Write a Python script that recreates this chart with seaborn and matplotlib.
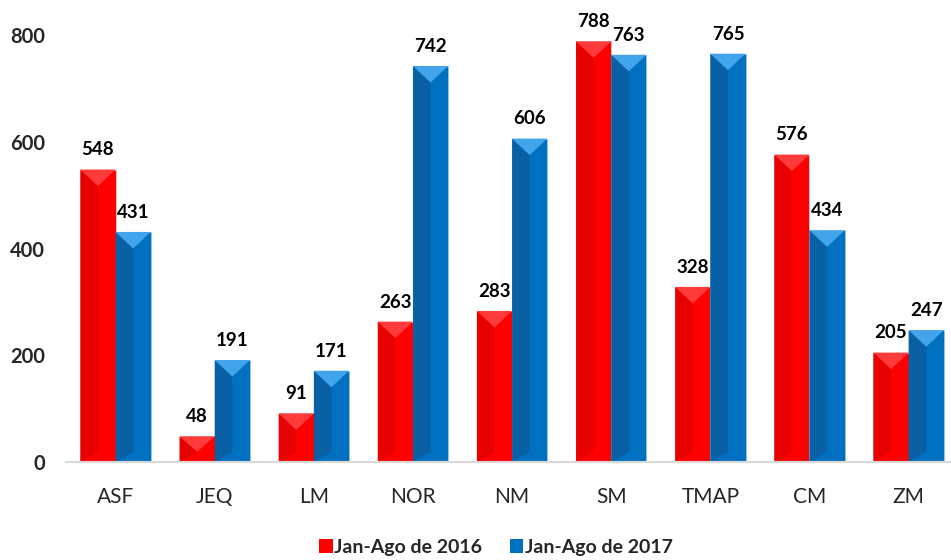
import numpy as np
import pandas as pd
import matplotlib
matplotlib.use("Agg")
import matplotlib.pyplot as plt
from matplotlib.patches import Polygon, Patch
import seaborn as sns

categories = ["ASF", "JEQ", "LM", "NOR", "NM", "SM", "TMAP", "CM", "ZM"]
series_names = ["Jan-Ago de 2016", "Jan-Ago de 2017"]
values_2016 = [548, 48, 91, 263, 283, 788, 328, 576, 205]
values_2017 = [431, 191, 171, 742, 606, 763, 765, 434, 247]
y_ticks = [0, 200, 400, 600, 800]

df = pd.DataFrame({
    "region": categories * 2,
    "value": values_2016 + values_2017,
    "period": [series_names[0]] * len(categories) + [series_names[1]] * len(categories),
})

sns.set_theme(style="white")
plt.rcParams["font.family"] = ["Lato", "DejaVu Sans"]

W, H = 951, 560
fig = plt.figure(figsize=(W / 100, H / 100), dpi=100)
ax = fig.add_axes([66 / W, 98 / H, (W - 66) / W, 462 / H])

main_cols = ["#FF0000", "#0070C0"]
dark_cols = ["#E60000", "#0A60A5"]
top_cols = ["#FF3A3A", "#42A5EC"]

sns.barplot(data=df, x="region", y="value", hue="period", hue_order=series_names,
            order=categories, palette=main_cols, saturation=1, width=0.71,
            ax=ax, legend=False)

ax.set_ylim(0, 865.6)
ax.set_xlim(-0.5, (W - 115) / 99.2)
fig.canvas.draw()

px_per_y = ax.transData.transform((0, 1))[1] - ax.transData.transform((0, 0))[1]
px_per_x = ax.transData.transform((1, 0))[0] - ax.transData.transform((0, 0))[0]

bars = [p for p in ax.patches if p.get_height() > 0]
for p in bars:
    x0, w, h = p.get_x(), p.get_width(), p.get_height()
    fc = p.get_facecolor()
    si = 0 if fc[0] > 0.9 else 1
    depth = (w * px_per_x * 0.47) / px_per_y
    depth = min(depth, h * 0.6)
    ax.add_patch(Polygon([(x0, 0), (x0 + w * 0.5, depth * 0.6), (x0 + w * 0.5, h - depth), (x0, h)],
                         closed=True, facecolor=dark_cols[si], edgecolor="none", zorder=3))
    ax.add_patch(Polygon([(x0, h), (x0 + w, h), (x0 + w / 2, h - depth)],
                         closed=True, facecolor=top_cols[si], edgecolor="none", zorder=3))
    p.set_edgecolor("#D0D0D0" if si == 0 else "#9CC3E5")
    p.set_linewidth(0.6)

for p in bars:
    ax.annotate(f"{int(round(p.get_height()))}", (p.get_x() + p.get_width() / 2, p.get_height()),
                xytext=(0, 8), textcoords="offset points", ha="center", va="bottom",
                fontsize=13.5, fontweight="bold", color="black", zorder=5)

for s in ["top", "right", "left"]:
    ax.spines[s].set_visible(False)
ax.spines["bottom"].set_color("#D9D9D9")
ax.spines["bottom"].set_linewidth(1.5)
ax.spines["bottom"].set_zorder(4)

ax.set_yticks(y_ticks)
ax.set_yticklabels([str(v) for v in y_ticks], fontsize=14.5, fontweight="bold")
ax.tick_params(axis="y", length=0, pad=15)
ax.tick_params(axis="x", length=0, pad=18, labelsize=15)
ax.set_xlabel("")
ax.set_ylabel("")
ax.grid(False)

handles = [Patch(facecolor=main_cols[0], edgecolor="none"), Patch(facecolor=main_cols[1], edgecolor="none")]
fig.legend(handles, series_names, loc="center", bbox_to_anchor=(496 / W, 1 - 547 / H),
           ncol=2, frameon=False, handlelength=0.7, handleheight=0.7, handletextpad=0.1,
           columnspacing=1.4, prop={"size": 14, "weight": "bold"})

fig.savefig("out.png", dpi=100)
